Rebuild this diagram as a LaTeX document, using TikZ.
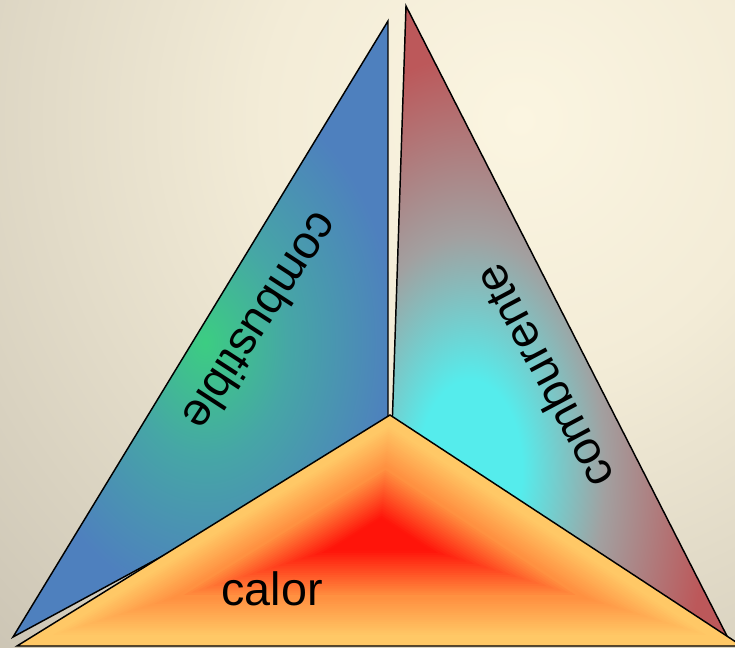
\documentclass[tikz,border=0pt]{standalone}
\usepackage{fontspec}
\setmainfont{Liberation Sans}
\usetikzlibrary{calc}

\definecolor{bgLight}{RGB}{251,245,225}
\definecolor{bgMid}{RGB}{243,236,215}
\definecolor{bgDark}{RGB}{200,193,177}
\definecolor{fuelBlue}{RGB}{78,128,190}
\definecolor{fuelTeal}{RGB}{70,166,166}
\definecolor{fuelGreen}{RGB}{60,205,130}
\definecolor{oxCyan}{RGB}{85,236,236}
\definecolor{oxGray}{RGB}{162,160,160}
\definecolor{oxRed}{RGB}{188,88,90}
\definecolor{heatRed}{RGB}{255,20,10}
\definecolor{heatOrange}{RGB}{255,140,62}
\definecolor{heatYellow}{RGB}{255,200,102}

% radial shadings: 25bp is the rim of the shaded ellipse
\pgfdeclareradialshading{bgglow}{\pgfpoint{0bp}{0bp}}{color(0bp)=(bgLight); color(8bp)=(bgMid); color(25bp)=(bgDark); color(50bp)=(bgDark)}
\pgfdeclareradialshading{fuelglow}{\pgfpoint{0bp}{0bp}}{color(0bp)=(fuelGreen); color(11bp)=(fuelTeal); color(25bp)=(fuelBlue); color(50bp)=(fuelBlue)}
\pgfdeclareradialshading{oxglow}{\pgfpoint{0bp}{0bp}}{color(0bp)=(oxCyan); color(5bp)=(oxCyan); color(13bp)=(oxGray); color(23bp)=(oxRed); color(50bp)=(oxRed)}

\begin{document}
\begin{tikzpicture}[
  x=0.75pt, y=0.75pt,
  face/.style      = {draw=black, line width=1.1pt},
  facelabel/.style = {font=\fontsize{35}{40}\selectfont, inner sep=0pt},
]
%--- background ---
  \useasboundingbox (0,0) rectangle (735,647);
  \begin{scope}
    \clip (0,0) rectangle (735,647);
    \fill[bgDark] (0,0) rectangle (735,647);
    \shade[shading=bgglow] (520,527) circle (800);
  \end{scope}

%--- corners of the three faces ---
  \coordinate (fTop)   at (388,626);
  \coordinate (fLeft)  at (13,10);
  \coordinate (fIn)    at (388,213);

  \coordinate (oTop)   at (406,641);
  \coordinate (oRight) at (728,9);
  \coordinate (oIn)    at (392,217);

  \coordinate (hTop)   at (390,232);
  \coordinate (hLeft)  at (17,1);
  \coordinate (hRight) at (742,1);
  \coordinate (hMid)   at (380,112);

%--- Left: combustible ---
  \begin{scope}
    \clip (fTop) -- (fLeft) -- (fIn) -- cycle;
    \fill[fuelBlue] (fTop) -- (fLeft) -- (fIn) -- cycle;
    \shade[shading=fuelglow] (205,305) ellipse (190 and 260);
  \end{scope}
  \draw[face] (fTop) -- (fLeft) -- (fIn) -- cycle;

%--- Right: comburente ---
  \begin{scope}
    \clip (oTop) -- (oRight) -- (oIn) -- cycle;
    \fill[oxRed] (oTop) -- (oRight) -- (oIn) -- cycle;
    \shade[shading=oxglow] (470,177) ellipse (260 and 450);
  \end{scope}
  \draw[face] (oTop) -- (oRight) -- (oIn) -- cycle;

%--- Bottom: calor (nested triangles shrink to the hot spot) ---
  \foreach \s in {1.00,0.98,...,0.56} {
    \pgfmathsetmacro\mix{max(0,(0.92-\s)/0.37*100)}
    \fill[heatOrange!\mix!heatYellow]
      ($(hMid)!\s!(hTop)$) -- ($(hMid)!\s!(hLeft)$) -- ($(hMid)!\s!(hRight)$) -- cycle;
  }
  \foreach \s in {0.54,0.52,...,0.01} {
    \pgfmathsetmacro\mix{min(100,(0.55-\s)/0.40*100)}
    \fill[heatRed!\mix!heatOrange]
      ($(hMid)!\s!(hTop)$) -- ($(hMid)!\s!(hLeft)$) -- ($(hMid)!\s!(hRight)$) -- cycle;
  }
  \draw[face] (hTop) -- (hLeft) -- (hRight) -- cycle;

%--- labels ---
  \node[facelabel, rotate=-123] (lFuel) at (262,325)  {combustible};
  \node[facelabel, rotate=118]  (lOx)   at (543,270)  {comburente};
  \node[facelabel]              (lHeat) at (272,58.5) {calor};
\end{tikzpicture}
\end{document}
